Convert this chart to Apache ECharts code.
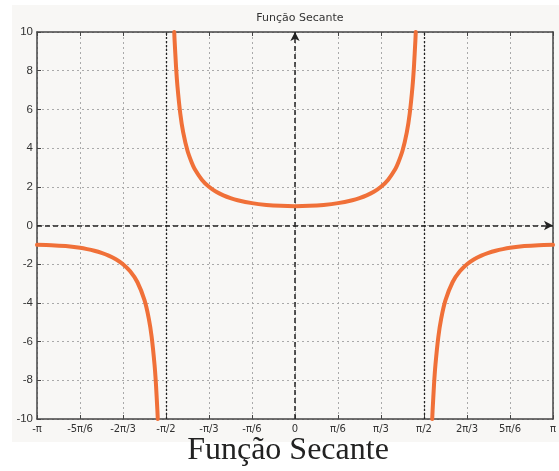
<!DOCTYPE html>
<html><head><meta charset="utf-8">
<script src="https://cdn.jsdelivr.net/npm/echarts@6/dist/echarts.min.js"></script>
<style>html,body{margin:0;padding:0;background:#fff}#c{width:559px;height:471px}</style>
</head><body><div id="c"></div>
<script>
// x in degrees, y = value
const xTickLabels = ['-π','-5π/6','-2π/3','-π/2','-π/3','-π/6','0','π/6','π/3','π/2','2π/3','5π/6','π'];
const leftBranch = [[-180,-1],[-170,-1.015],[-160,-1.064],[-150,-1.155],[-145,-1.221],[-140,-1.305],[-135,-1.414],[-130,-1.556],[-125,-1.743],[-120,-2],[-115,-2.37],[-110,-2.92],[-105,-3.86],[-102,-4.81],[-100,-5.76],[-98,-7.19],[-97,-8.21],[-96,-9.57],[-95.74,-10]];
const midBranch = [[-84.26,10],[-84,9.57],[-83,8.21],[-82,7.19],[-80,5.76],[-78,4.81],[-75,3.86],[-72,3.24],[-70,2.92],[-65,2.37],[-60,2],[-55,1.74],[-50,1.556],[-45,1.414],[-40,1.305],[-30,1.155],[-20,1.064],[-10,1.015],[0,1],[10,1.015],[20,1.064],[30,1.155],[40,1.305],[45,1.414],[50,1.556],[55,1.74],[60,2],[65,2.37],[70,2.92],[72,3.24],[75,3.86],[78,4.81],[80,5.76],[82,7.19],[83,8.21],[84,9.57],[84.26,10]];
const rightBranch = [[95.74,-10],[96,-9.57],[97,-8.21],[98,-7.19],[100,-5.76],[102,-4.81],[105,-3.86],[110,-2.92],[115,-2.37],[120,-2],[125,-1.743],[130,-1.556],[135,-1.414],[140,-1.305],[145,-1.221],[150,-1.155],[160,-1.064],[170,-1.015],[180,-1]];
const titleText = 'Função Secante';

const chart = echarts.init(document.getElementById('c'), null, {renderer:'canvas'});
const curveStyle = {color:'#f07038', width:4, join:'round', cap:'round'};
function curve(d){return {type:'line', data:d, showSymbol:false, smooth:0.2, lineStyle:curveStyle, z:5, clip:true};}
const darkDot = {color:'#222', type:[2,2], width:1.3};
chart.setOption({
  animation:false,
  backgroundColor:'#fff',
  graphic:[
    {type:'rect', shape:{x:12,y:5,width:547,height:437}, style:{fill:'#f8f7f5'}, z:-10, silent:true},
    {type:'text', style:{text:titleText, x:288, y:435, fill:'#222', font:'32px "Liberation Serif", "Times New Roman", serif', textAlign:'center', textVerticalAlign:'top'}, z:10}
  ],
  title:{text:titleText, left:295, top:8, textAlign:'center', textStyle:{fontSize:11, fontWeight:'normal', color:'#333', fontFamily:'"DejaVu Sans", Arial, sans-serif'}},
  grid:{left:37, right:6, top:32, bottom:52},
  xAxis:[{
    type:'value', min:-180, max:180, interval:30,
    axisLine:{onZero:false, lineStyle:{color:'#444', width:1.5}},
    axisTick:{inside:true, length:4, lineStyle:{color:'#444'}},
    axisLabel:{color:'#333', fontSize:10, fontFamily:'"DejaVu Sans", Arial, sans-serif', margin:5,
      formatter:function(v){return xTickLabels[Math.round((v+180)/30)];}},
    splitLine:{show:true, lineStyle:{color:'#aaa', type:[2,3], width:1}}
  },{
    type:'value', min:-180, max:180, interval:30, position:'top',
    axisLine:{onZero:false, lineStyle:{color:'#444', width:1.5}},
    axisTick:{inside:true, length:4, lineStyle:{color:'#444'}},
    axisLabel:{show:false}, splitLine:{show:false}
  }],
  yAxis:[{
    type:'value', min:-10, max:10, interval:2,
    axisLine:{onZero:false, lineStyle:{color:'#444', width:1.5}},
    axisTick:{inside:true, length:4, lineStyle:{color:'#444'}},
    axisLabel:{color:'#333', fontSize:11.5, fontFamily:'"Liberation Sans", Arial, sans-serif', margin:4},
    splitLine:{show:true, lineStyle:{color:'#aaa', type:[2,3], width:1}}
  },{
    type:'value', min:-10, max:10, interval:2, position:'right',
    axisLine:{onZero:false, lineStyle:{color:'#444', width:1.5}},
    axisTick:{show:false}, axisLabel:{show:false}, splitLine:{show:false}
  }],
  series:[
    curve(leftBranch), curve(midBranch), curve(rightBranch),
    {type:'line', data:[], markLine:{silent:true, symbol:'none', label:{show:false}, animation:false,
      lineStyle:darkDot, data:[{xAxis:-90},{xAxis:90}]}},
    {type:'line', data:[], markLine:{silent:true, symbol:['none','arrow'], symbolSize:[7,9], label:{show:false}, animation:false,
      lineStyle:{color:'#222', type:[5,3], width:1.5}, data:[{xAxis:0},{yAxis:0}]}}
  ]
});
</script></body></html>
